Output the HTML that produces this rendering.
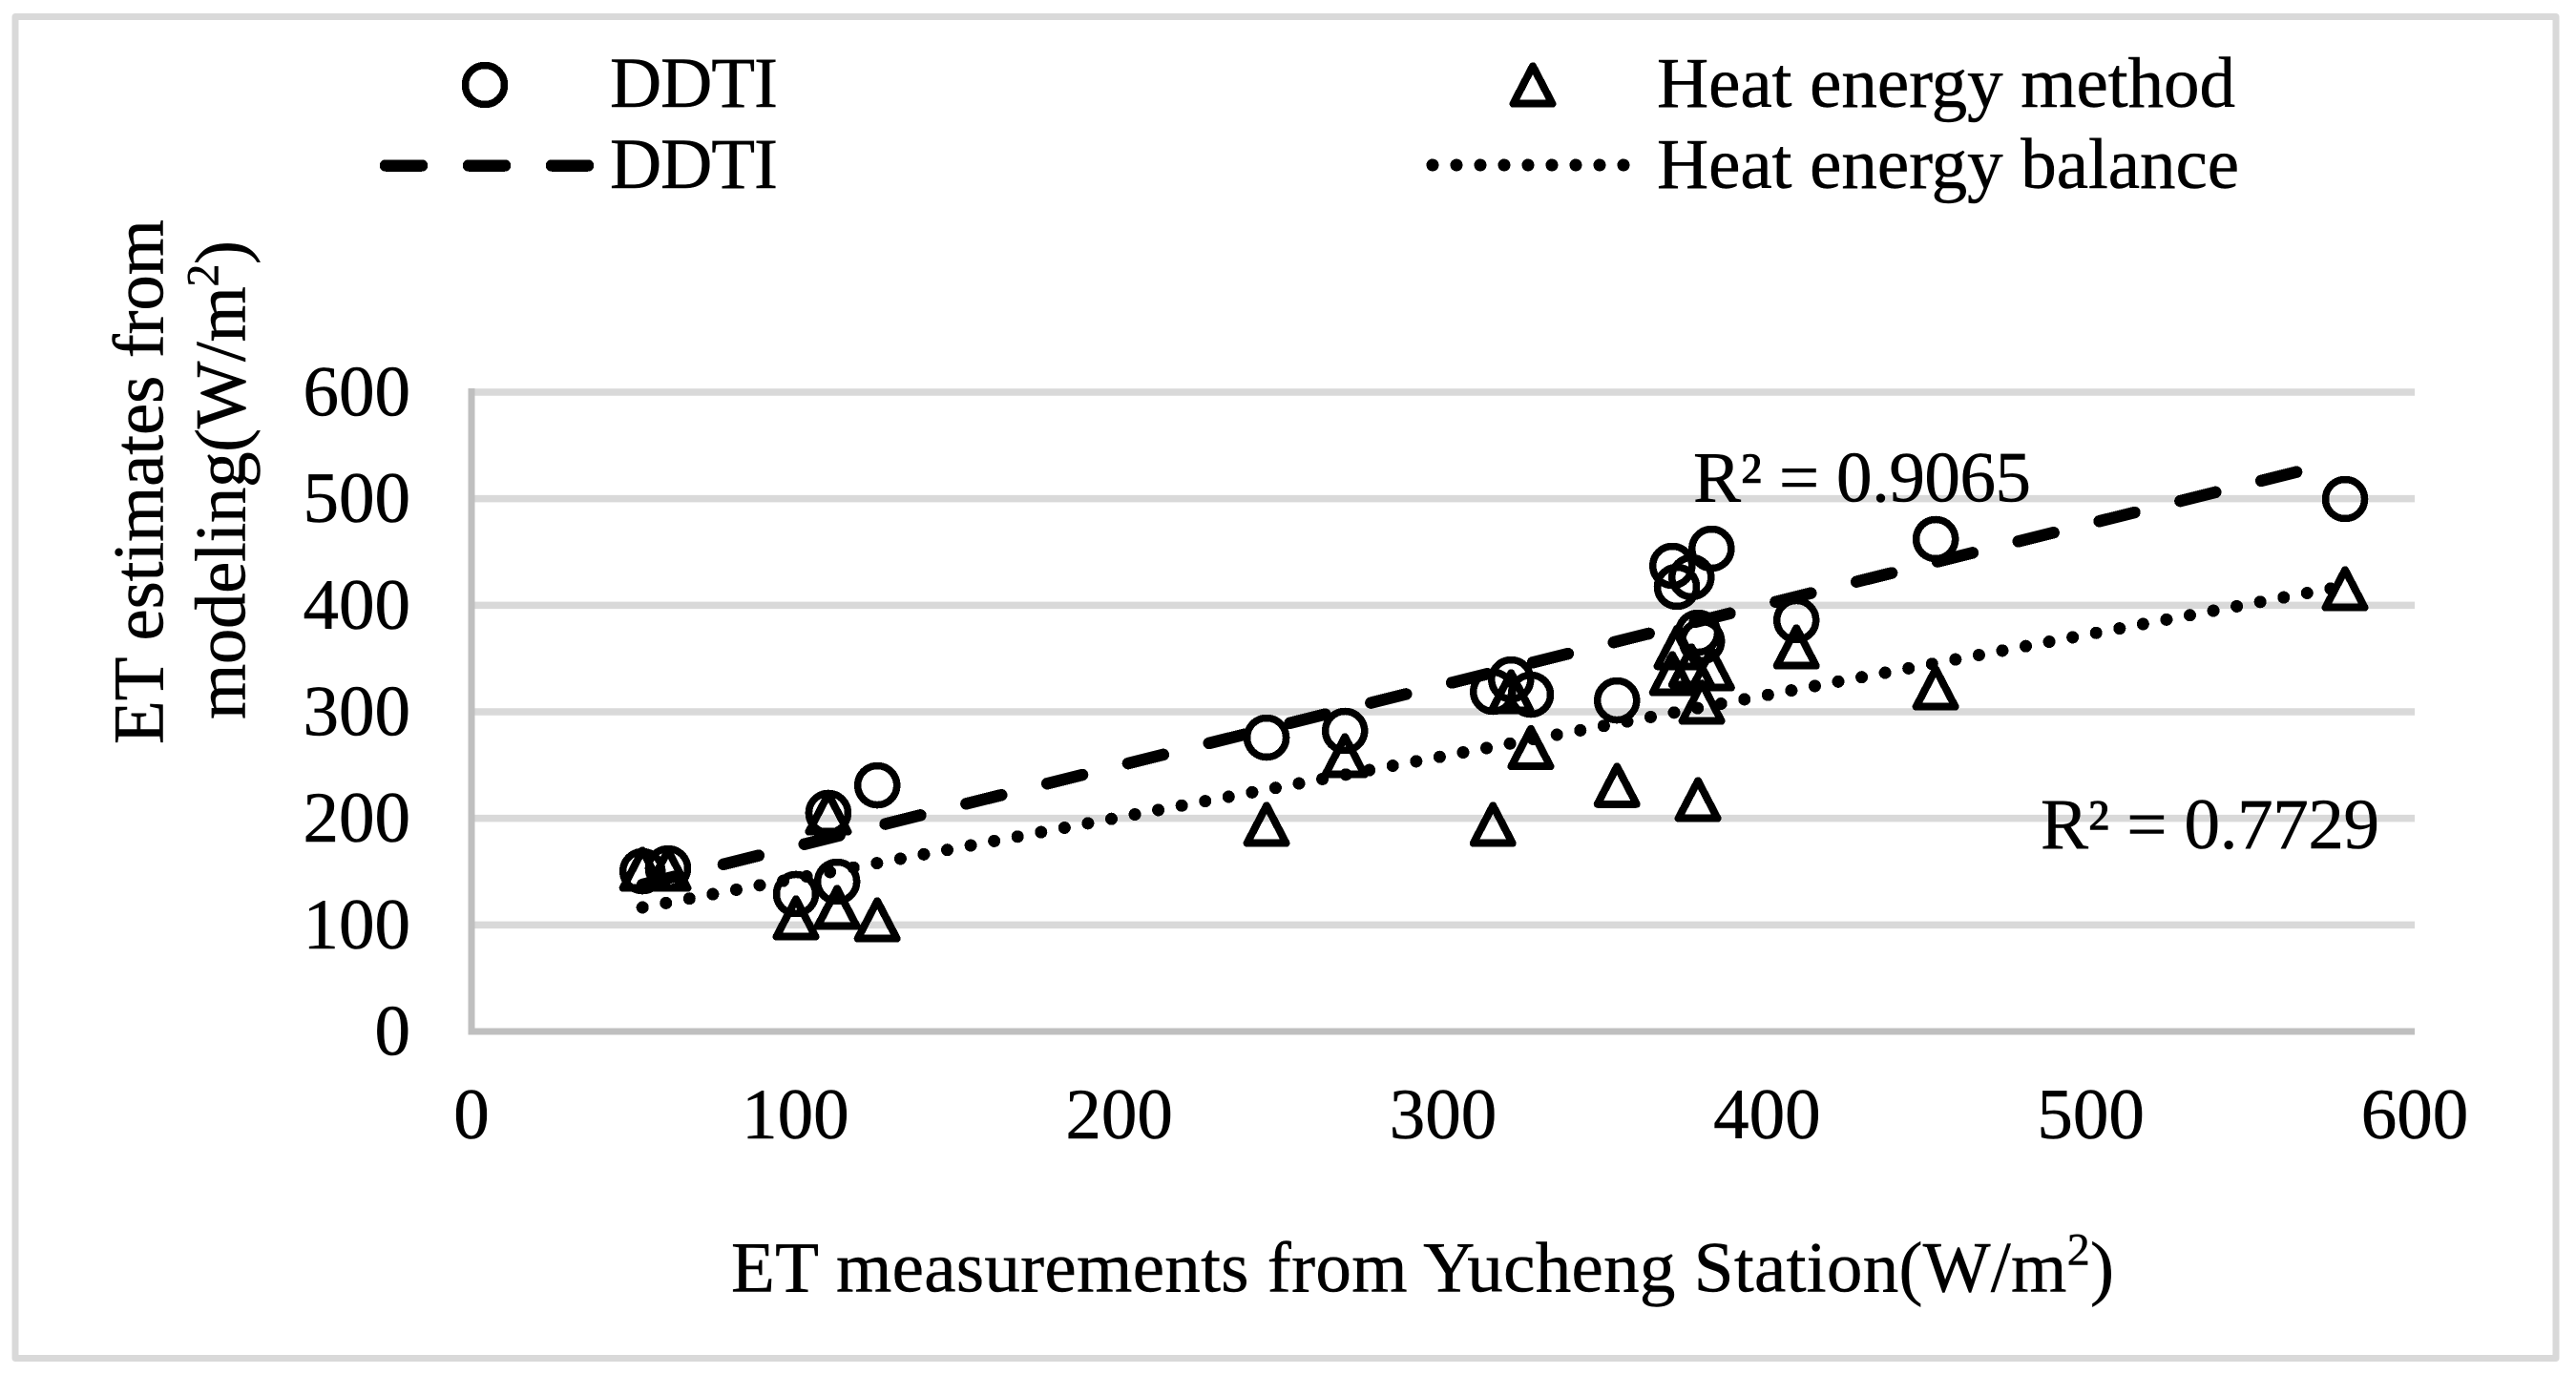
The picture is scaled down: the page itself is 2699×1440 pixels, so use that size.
<!DOCTYPE html>
<html lang="en">
<head>
<meta charset="utf-8">
<title>ET estimates vs measurements</title>
<style>
html,body{margin:0;padding:0;background:#fff;}
svg{display:block;}
text{font-family:"Liberation Serif",serif;font-size:75px;fill:#000;stroke:#000;stroke-width:.5px;}
tspan.sup{font-size:48px;}
</style>
</head>
<body>
<svg id="chart" xmlns="http://www.w3.org/2000/svg" width="2699" height="1440" viewBox="0 0 2699 1440">
  <rect x="0" y="0" width="2699" height="1440" fill="#fff"/>
  <rect x="16" y="17.5" width="2662" height="1406" fill="#fff" stroke="#d9d9d9" stroke-width="7" stroke-linejoin="round"/>
  <g id="grid"></g>
  <g id="axes"></g>
  <g id="ticks"></g>
  <g id="trends"></g>
  <g id="points"></g>

  <g>
    <circle cx="508" cy="89" r="20.5" fill="none" stroke="#000" stroke-width="7.5" shape-rendering="crispEdges"/>
    <text x="639" y="112" textLength="176">DDTI</text>
    <line x1="404" y1="173.5" x2="616" y2="173.5" stroke="#000" stroke-width="12.5" stroke-linecap="round" stroke-dasharray="38 49" shape-rendering="crispEdges"/>
    <text x="639" y="197" textLength="176">DDTI</text>
    <polygon points="1606,69.3 1626.5,108.7 1585.5,108.7" fill="none" stroke="#000" stroke-width="8" stroke-linejoin="round" shape-rendering="crispEdges"/>
    <text x="1736" y="112" textLength="606">Heat energy method</text>
    <line x1="1501" y1="173" x2="1703" y2="173" stroke="#000" stroke-width="13" stroke-linecap="round" stroke-dasharray="0 25" shape-rendering="crispEdges"/>
    <text x="1736" y="197" textLength="610">Heat energy balance</text>
  </g>

  <text x="1774" y="525.7" textLength="354">R² = 0.9065</text>
  <text x="2138" y="889" textLength="355">R² = 0.7729</text>

  <text x="766" y="1353.6" textLength="1449">ET measurements from Yucheng Station(W/m<tspan class="sup" dy="-28">2</tspan><tspan dy="28">)</tspan></text>
  <text transform="translate(170.5,780) rotate(-90)" x="0" y="0" textLength="550">ET estimates from</text>
  <text transform="translate(256.6,754) rotate(-90)" x="0" y="0" textLength="502">modeling(W/m<tspan class="sup" dy="-28">2</tspan><tspan dy="28">)</tspan></text>
</svg>
<script>
var xTicks = [0, 100, 200, 300, 400, 500, 600];
var yTicks = [0, 100, 200, 300, 400, 500, 600];
var measured = [52.8, 60.7, 100.2, 110.2, 112.9, 125.3, 245.5, 269.7, 315.4, 321.0, 327.1, 353.7, 370.8, 372.2, 376.7, 378.7, 379.9, 382.9, 409.1, 452.1, 578.5];
var ddti = [150.4, 153.1, 129.0, 205.1, 140.6, 231.0, 275.8, 282.1, 318.8, 330.4, 316.1, 310.7, 437.0, 417.3, 426.3, 374.3, 366.3, 453.1, 386.0, 462.1, 499.7];
var heat = [152.2, 152.2, 106.6, 205.1, 116.4, 104.8, 194.3, 258.8, 194.3, 318.8, 266.4, 231.0, 335.8, 360.3, 343.0, 217.6, 309.0, 340.3, 360.9, 322.4, 415.5];
var ddtiTrendX = [52.8, 565.3];
var ddtiTrendY = [137.9, 526.4];
var heatTrendX = [52.8, 578.5];
var heatTrendY = [116.4, 418.2];

var NS = 'http://www.w3.org/2000/svg';
function sx(v) { return 494 + v * (2530 - 494) / 600; }
function sy(v) { return 1081 - v * (1081 - 411) / 600; }
function mk(tag, parentId, attrs) {
  var el = document.createElementNS(NS, tag);
  for (var k in attrs) { el.setAttribute(k, attrs[k]); }
  document.getElementById(parentId).appendChild(el);
  return el;
}

yTicks.forEach(function (t) {
  if (t === 0) { return; }
  var g = mk('line', 'grid', {x1: 494, x2: 2530, y1: sy(t), y2: sy(t), stroke: '#d9d9d9', 'stroke-width': 7.5});
  
  
});

var ya = mk('line', 'axes', {x1: sx(0), x2: sx(0), y1: 407, y2: 1084.5, stroke: '#bfbfbf', 'stroke-width': 7});


var xa = mk('line', 'axes', {x1: 490.5, x2: 2530, y1: sy(0), y2: sy(0), stroke: '#bfbfbf', 'stroke-width': 7});



yTicks.forEach(function (t) {
  var l = mk('text', 'ticks', {x: 430, y: sy(t) + 24.5, 'text-anchor': 'end'});
  l.textContent = t;
  
  
});
xTicks.forEach(function (t) {
  var l = mk('text', 'ticks', {x: sx(t), y: 1193, 'text-anchor': 'middle'});
  l.textContent = t;
  
  
});

var dt = mk('line', 'trends', {x1: sx(ddtiTrendX[0]), y1: sy(ddtiTrendY[0]), x2: sx(ddtiTrendX[1]), y2: sy(ddtiTrendY[1]), stroke: '#000', 'stroke-width': 12.5, 'stroke-linecap': 'round', 'stroke-dasharray': '38 49.4', 'shape-rendering': 'crispEdges'});


var ht = mk('line', 'trends', {x1: sx(heatTrendX[0]), y1: sy(heatTrendY[0]), x2: sx(heatTrendX[1]), y2: sy(heatTrendY[1]), stroke: '#000', 'stroke-width': 13, 'stroke-linecap': 'round', 'stroke-dasharray': '0 25', 'shape-rendering': 'crispEdges'});



measured.forEach(function (m, i) {
  var c = mk('circle', 'points', {cx: sx(m), cy: sy(ddti[i]), r: 20.5, fill: 'none', stroke: '#000', 'stroke-width': 7.5, 'shape-rendering': 'crispEdges'});
  
  
});
measured.forEach(function (m, i) {
  var x = sx(m), y = sy(heat[i]);
  var p = mk('polygon', 'points', {points: x + ',' + (y - 19.7) + ' ' + (x + 20.5) + ',' + (y + 19.7) + ' ' + (x - 20.5) + ',' + (y + 19.7), fill: 'none', stroke: '#000', 'stroke-width': 8, 'stroke-linejoin': 'round', 'shape-rendering': 'crispEdges'});
  
  
});
</script>
</body>
</html>
